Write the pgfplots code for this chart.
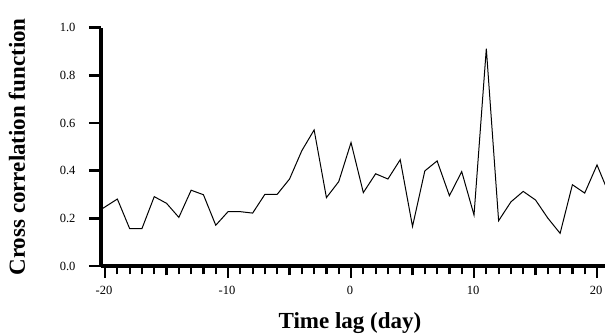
\documentclass[border=0pt]{standalone}
\usepackage{fontspec}
\setmainfont{Liberation Serif}
\usepackage{pgfplots}
\pgfplotsset{compat=1.18}
\newcommand{\tl}{\fontsize{12.5}{13}\selectfont}
\begin{document}
\begin{tikzpicture}
\begin{axis}[
  name=ax,
  scale only axis,
  width=504pt, height=238.3pt,
  xmin=-20.33, xmax=20.65,
  ymin=0, ymax=1,
  axis x line*=bottom,
  axis y line*=left,
  axis line style={-, line width=3.2pt, black},
  tick align=outside,
  xtick={-20,-10,0,10,20},
  xticklabels={{\tl -20},{\tl -10},{\tl 0},{\tl 10},{\tl 20}},
  minor x tick num=9,
  extra x ticks={-15,-5,5,15},
  extra x tick labels={},
  extra x tick style={major tick length=9.5pt},
  ytick={0,0.2,0.4,0.6,0.8,1.0},
  yticklabels={{\tl 0.0},{\tl 0.2},{\tl 0.4},{\tl 0.6},{\tl 0.8},{\tl 1.0}},
  major tick length=12pt,
  minor tick length=8.5pt,
  major tick style={black, line width=2.4pt},
  minor tick style={black, line width=2.2pt},
  yticklabel style={anchor=east, xshift=-10pt},
  xticklabel style={anchor=north, yshift=-5pt, xshift=-1pt},
  xlabel={Time lag (day)},
  ylabel={Cross correlation function},
  xlabel style={font=\fontsize{23}{26}\selectfont\bfseries, at={(axis description cs:0.494,0)}, anchor=center, yshift=-57pt},
  ylabel style={font=\fontsize{23}{26}\selectfont\bfseries, at={(axis description cs:-0.1667,0.5)}, anchor=center},
  clip=true,
]
\addplot[black, line width=1pt, line join=miter] coordinates {
(-21,0.215) (-20,0.248) (-19,0.281) (-18,0.157) (-17,0.157) (-16,0.291)
(-15,0.263) (-14,0.204) (-13,0.318) (-12,0.299) (-11,0.171) (-10,0.228)
(-9,0.228) (-8,0.222) (-7,0.301) (-6,0.301) (-5,0.365) (-4,0.484)
(-3,0.571) (-2,0.287) (-1,0.354) (0,0.518) (1,0.308) (2,0.387)
(3,0.365) (4,0.446) (5,0.166) (6,0.399) (7,0.441) (8,0.295)
(9,0.396) (10,0.214) (11,0.912) (12,0.190) (13,0.269) (14,0.313)
(15,0.277) (16,0.201) (17,0.137) (18,0.341) (19,0.306) (20,0.424)
(21,0.300)
};
\end{axis}
\pgfresetboundingbox
\path[use as bounding box] ([xshift=-101pt,yshift=-70pt]ax.south west) rectangle ([yshift=27.7pt]ax.north east);
\end{tikzpicture}
\end{document}
